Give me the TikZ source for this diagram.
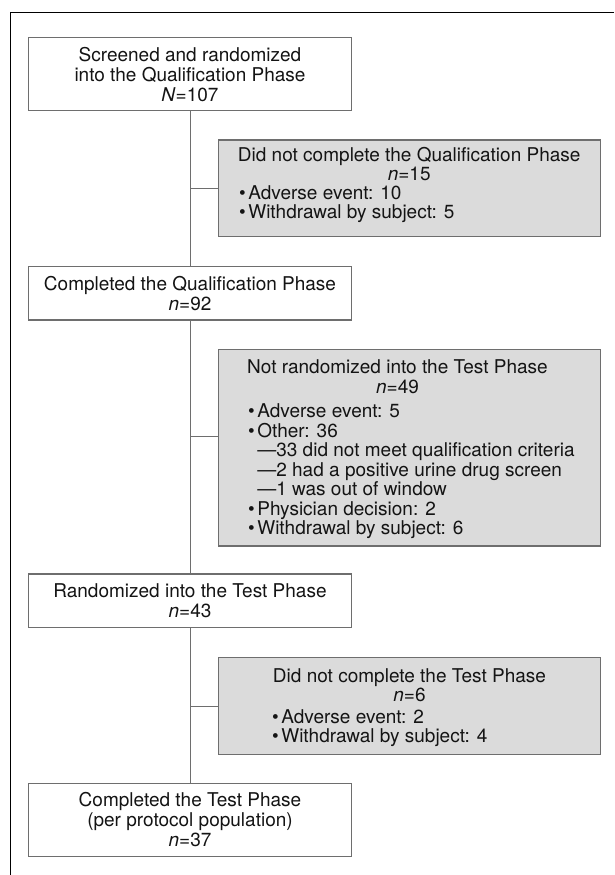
\documentclass[tikz,border=0pt]{standalone}
\usepackage{fontspec}
\setmainfont{TeX Gyre Heros}
\usetikzlibrary{positioning}

\definecolor{boxgray}{HTML}{DBDBDB}
\definecolor{linegray}{HTML}{6E6E6E}
\definecolor{textgray}{HTML}{141414}

\newcommand{\bul}{\textbullet\hspace{2.5pt}}
\newcommand{\subbul}{\hphantom{\textbullet\hspace{2.5pt}}—}

\begin{document}
\begin{tikzpicture}[
    x=1pt, y=-1pt,
    font=\fontsize{19}{19.5}\selectfont,
    text=textgray,
    phase/.style={draw=linegray, line width=1.2pt, fill=white, align=center,
                  font=\fontsize{19}{20}\selectfont, minimum width=322.6pt, inner sep=0pt},
    exclusion/.style={draw=linegray, line width=1.2pt, fill=boxgray, minimum width=382pt},
    heading/.style={align=center, inner sep=0pt},
    items/.style={align=left, inner sep=0pt, anchor=west},
    connection/.style={draw=linegray, line width=1pt},
    frame/.style={draw=black, line width=1.3pt}
]

\useasboundingbox (0,0) rectangle (614,875);

% Outer frame (cut by the page edge)
\draw[frame] (614,12.7) -- (10.7,12.7) -- (10.7,875);

% Main flow
\node[phase, minimum height=73pt] (screened) at (190,74.2)
    {Screened and randomized\\into the Qualification Phase\\\textit{N}=107};
\node[phase, minimum height=53.3pt] (qualified) at (190,293.3)
    {Completed the Qualification Phase\\\textit{n}=92};
\node[phase, minimum height=53.7pt] (randomized) at (190,600.8)
    {Randomized into the Test Phase\\\textit{n}=43};
\node[phase, minimum height=73.4pt] (completed) at (190,820)
    {Completed the Test Phase\\(per protocol population)\\\textit{n}=37};

% Exclusion boxes
\node[exclusion, minimum height=96.8pt] (dropqual) at (409.5,188.4) {};
\node[exclusion, minimum height=196.7pt] (notrand) at (409.5,447.7) {};
\node[exclusion, minimum height=97pt] (droptest) at (409.5,706) {};

% Did not complete the Qualification Phase
\node[heading] (dropqual-title) at (409.2,164.2)
    {Did not complete the Qualification Phase\\\textit{n}=15};
\node[items] (dropqual-list) at (239,204)
    {\bul Adverse event: 10\\
     \bul Withdrawal by subject: 5};

% Not randomized into the Test Phase
\node[heading] (notrand-title) at (397.5,376.8)
    {Not randomized into the Test Phase\\\textit{n}=49};
\node[items] (notrand-list) at (248,471.3)
    {\bul Adverse event: 5\\
     \bul Other: 36\\
     \subbul 33 did not meet qualification criteria\\
     \subbul 2 had a positive urine drug screen\\
     \subbul 1 was out of window\\
     \bul Physician decision: 2\\
     \bul Withdrawal by subject: 6};

% Did not complete the Test Phase
\node[heading] (droptest-title) at (409.5,685)
    {Did not complete the Test Phase\\\textit{n}=6};
\node[items] (droptest-list) at (272,728.2)
    {\bul Adverse event: 2\\
     \bul Withdrawal by subject: 4};

% Connections
\draw[connection] (screened) -- (qualified);
\draw[connection] (qualified) -- (randomized);
\draw[connection] (randomized) -- (completed);
\draw[connection] (dropqual.west) -- (dropqual.west -| screened.south);
\draw[connection] ([yshift=11.7pt]notrand.west) -- ([yshift=11.7pt]notrand.west -| qualified.south);
\draw[connection] (droptest.west) -- (droptest.west -| randomized.south);

\end{tikzpicture}
\end{document}
